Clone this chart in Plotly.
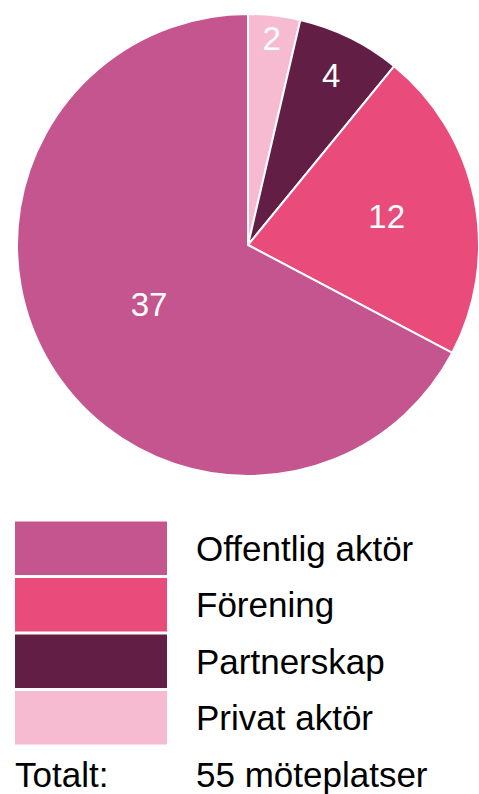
import plotly.graph_objects as go

# Mötesplatser per typ av huvudman
kategorier = ["Offentlig aktör", "Förening", "Partnerskap", "Privat aktör"]
antal = [37, 12, 4, 2]
farger = ["#C5558F", "#E94C7A", "#631E45", "#F6BBD0"]
totalt_text = "Totalt:"
totalt_varde = str(sum(antal)) + " möteplatser"

W, H = 479, 794
font_family = "Arial, Liberation Sans, sans-serif"

fig = go.Figure()

# Tårtdiagrammet - medurs från kl 12, minsta gruppen först
fig.add_trace(go.Pie(
    labels=kategorier[::-1],
    values=antal[::-1],
    marker=dict(colors=farger[::-1], line=dict(color="white", width=2)),
    sort=False,
    direction="clockwise",
    rotation=0,
    textinfo="value",
    textposition="inside",
    insidetextorientation="horizontal",
    textfont=dict(color="white", size=33, family=font_family),
    domain=dict(x=[17 / W, 1.0], y=[(H - 477) / H, (H - 13) / H]),
    showlegend=False,
    hoverinfo="label+value",
))

# Förklaringen som staplar
fig.add_trace(go.Bar(
    y=kategorier,
    x=[1] * len(kategorier),
    orientation="h",
    marker=dict(color=farger, line=dict(width=0)),
    showlegend=False,
    hoverinfo="skip",
    xaxis="x",
    yaxis="y",
))

fig.update_layout(
    width=W,
    height=H,
    margin=dict(l=0, r=0, t=0, b=0),
    paper_bgcolor="white",
    plot_bgcolor="white",
    bargap=0.05,
    font=dict(family=font_family, color="black"),
    xaxis=dict(domain=[15 / W, 167 / W], range=[0, 1], visible=False,
               fixedrange=True),
    yaxis=dict(domain=[(H - 746) / H, (H - 520) / H], autorange="reversed",
               side="right", showgrid=False, zeroline=False, showline=False,
               ticks="", ticklabelstandoff=28,
               tickfont=dict(size=35, color="black", family=font_family),
               fixedrange=True),
)

fig.add_annotation(text=totalt_text, x=13 / W, y=(H - 774) / H, xref="paper",
                   yref="paper", xanchor="left", yanchor="middle",
                   showarrow=False, font=dict(size=35, color="black"))
fig.add_annotation(text=totalt_varde, x=194 / W, y=(H - 774) / H, xref="paper",
                   yref="paper", xanchor="left", yanchor="middle",
                   showarrow=False, font=dict(size=35, color="black"))

# ta bort sidans marginal så att figuren fyller fönstret
fig.write_html("out.html", config={"displayModeBar": False},
               post_script="document.body.style.margin='0';")
